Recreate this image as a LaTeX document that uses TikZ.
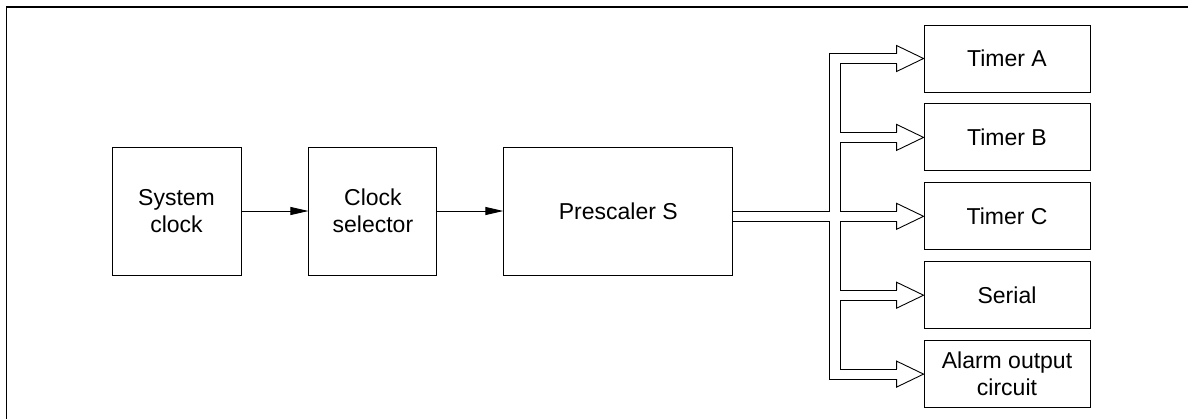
\documentclass[tikz,border=0pt]{standalone}
\usepackage{fontspec}
\setmainfont{Liberation Sans}
\usetikzlibrary{positioning,calc,arrows.meta}

\begin{document}
\begin{tikzpicture}[x=0.5pt, y=-0.5pt, line width=0.45pt,
		node distance={33.5pt},
		blk/.style = {draw, align=center, inner sep=2pt, font=\fontsize{11.5}{13.5}\selectfont},
		unit/.style = {blk, minimum width=83pt, minimum height=33.5pt},
		sig/.style = {-{Triangle[length=9pt,width=4pt]}}]
	\useasboundingbox (0,0) rectangle (1188,419);
	\draw[line width=0.7pt] (1188,7) -- (6.5,7) -- (6.5,419);

	\node[blk, minimum width=64.5pt, minimum height=64pt] (sys) at (176.5,211) {System\\clock};
	\node[blk, minimum width=64pt, minimum height=64pt] (sel) [right=of sys] {Clock\\selector};
	\node[blk, minimum width=114.5pt, minimum height=64pt] (pre) [right=33pt of sel] {Prescaler S};

	\node[unit] (ta) at (1007,58.5) {Timer A};
	\node[unit] (tb) [below=5.5pt of ta] {Timer B};
	\node[unit] (tc) [below=5.5pt of tb] {Timer C};
	\node[unit] (ser) [below=5.5pt of tc] {Serial};
	\node[unit] (alm) [below=5.5pt of ser] {Alarm output\\circuit};

	\draw[sig] (sys) -- (sel);
	\draw[sig] (sel) -- (pre);

	% bus heads
	\foreach \t in {ta,tb,tc,ser,alm}
		\draw ([shift={(-27,-5)}]\t.west) -- ++(0,-8) -- (\t.west) -- ([shift={(-27,13)}]\t.west) -- ++(0,-8);
	% bus outer lines
	\draw ($(pre.east |- tc.west)+(0,-5)$) -| ([shift={(-94,-5)}]ta.west) -- ([shift={(-27,-5)}]ta.west);
	\draw ($(pre.east |- tc.west)+(0,5)$) -| ([shift={(-94,5)}]alm.west) -- ([shift={(-27,5)}]alm.west);
	% bus inner lines
	\foreach \a/\b in {ta/tb,tb/tc,tc/ser,ser/alm}
		\draw ([shift={(-27,5)}]\a.west) -- ([shift={(-83,5)}]\a.west) |- ([shift={(-27,-5)}]\b.west);
\end{tikzpicture}
\end{document}
